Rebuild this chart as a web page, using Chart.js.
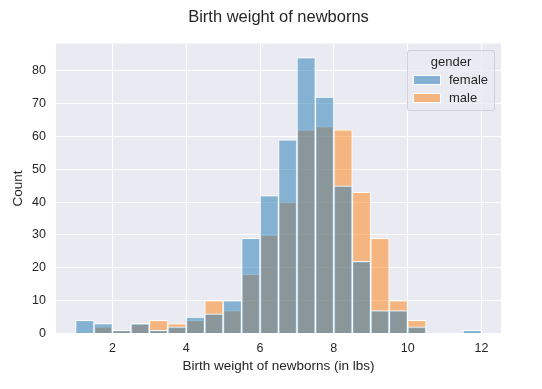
<!DOCTYPE html>
<html>
<head>
<meta charset="utf-8">
<script src="https://cdn.jsdelivr.net/npm/chart.js@4"></script>
<style>
  body { margin: 0; background: #fff; }
  #wrap { position: relative; width: 542px; height: 389px; }
  #legend {
    position: absolute; left: 407px; top: 50px; width: 88px; height: 61px;
    box-sizing: border-box; border: 1px solid rgba(204,204,204,0.8); border-radius: 3px;
    background: rgba(234,234,242,0.8);
    font-family: 'Liberation Sans', Arial, sans-serif; font-size: 13px; color: #262626;
  }
  #legend .ttl { position: absolute; left: 0; width: 100%; top: 3px; text-align: center; }
  #legend .sw { position: absolute; left: 5px; width: 26px; height: 8px; border: 1px solid #fff; }
  #legend .lb { position: absolute; left: 41px; }
</style>
</head>
<body>
<div id="wrap">
  <canvas id="chartHist" width="542" height="389"></canvas>
  <div id="legend"></div>
</div>
<script>
/* histogram bins (0.5 lb wide), counts */
const binCenters = [1.25, 1.75, 2.25, 2.75, 3.25, 3.75, 4.25, 4.75, 5.25, 5.75, 6.25,
                    6.75, 7.25, 7.75, 8.25, 8.75, 9.25, 9.75, 10.25, 10.75, 11.25, 11.75];
const femaleCounts = [4, 3, 1, 3, 1, 2, 5, 6, 10, 29, 42, 59, 84, 72, 45, 22, 7, 7, 2, 0, 0, 1];
const maleCounts = [0, 2, 1, 3, 4, 3, 4, 10, 7, 18, 30, 40, 62, 63, 62, 43, 29, 10, 4, 0, 0, 0];
const seriesNames = ["female", "male"];
const legendTitle = "gender";
const xTicks = [2, 4, 6, 8, 10, 12];

const textColor = "#262626";
Chart.defaults.font.family = "'Liberation Sans', Arial, sans-serif";
Chart.defaults.color = textColor;

function toPoints(counts) {
    return binCenters.map((c, i) => ({ x: c, y: counts[i] }));
}

// seaborn-ish grey panel behind the grid
const panelBg = {
    id: "panelBg",
    beforeDraw(chart) {
        const a = chart.chartArea;
        const c = chart.ctx;
        c.save();
        c.fillStyle = "#eaeaf2";
        c.fillRect(a.left, a.top, a.right - a.left, a.bottom - a.top);
        c.restore();
    }
};

var ctx = document.getElementById("chartHist").getContext("2d");
var chartHist = new Chart(ctx, {
    type: "bar",
    data: {
        datasets: [
            {
                label: seriesNames[0],
                data: toPoints(femaleCounts),
                backgroundColor: "rgba(31,119,180,0.5)",
                borderColor: "rgba(255,255,255,0.9)",
                borderWidth: 1
            },
            {
                label: seriesNames[1],
                data: toPoints(maleCounts),
                backgroundColor: "rgba(255,127,14,0.5)",
                borderColor: "rgba(255,255,255,0.9)",
                borderWidth: 1
            }
        ]
    },
    options: {
        responsive: false,
        animation: false,
        devicePixelRatio: 1,
        grouped: false,
        barPercentage: 1,
        categoryPercentage: 1,
        layout: { padding: { left: 0, right: 41, top: 0, bottom: 0 } },
        plugins: {
            legend: { display: false },
            tooltip: { enabled: false },
            title: {
                display: true,
                fullSize: false,
                text: "Birth weight of newborns",
                color: textColor,
                font: { size: 16.5, weight: "normal" },
                padding: { top: 8, bottom: 15.7 }
            }
        },
        scales: {
            x: {
                type: "linear",
                min: 0.47,
                max: 12.53,
                offset: false,
                afterBuildTicks: (s) => { s.ticks = xTicks.map(v => ({ value: v })); },
                afterFit: (s) => { s.height = 55.5; },
                ticks: { font: { size: 12.5 }, padding: 8, color: textColor },
                grid: { color: "#ffffff", lineWidth: 1, drawTicks: false, offset: false },
                border: { display: false },
                title: {
                    display: true,
                    text: "Birth weight of newborns (in lbs)",
                    font: { size: 13.5 },
                    color: textColor,
                    padding: { top: 0, bottom: 15 }
                }
            },
            y: {
                min: 0,
                max: 88.3,
                ticks: { stepSize: 10, includeBounds: false, font: { size: 12.5 }, padding: 10, color: textColor },
                afterFit: (s) => { s.width = 56; },
                grid: { color: "#ffffff", lineWidth: 1, drawTicks: false },
                border: { display: false },
                title: {
                    display: true,
                    text: "Count",
                    font: { size: 13.5 },
                    color: textColor,
                    padding: { top: 10, bottom: 0 }
                }
            }
        }
    },
    plugins: [panelBg]
});

/* legend box in the upper right, built from the datasets */
function buildLegend() {
    var box = document.getElementById("legend");
    var t = document.createElement("div");
    t.className = "ttl";
    t.textContent = legendTitle;
    box.appendChild(t);
    chartHist.data.datasets.forEach((ds, i) => {
        var sw = document.createElement("div");
        sw.className = "sw";
        sw.style.top = (24 + i * 18) + "px";
        sw.style.background = ds.backgroundColor;
        box.appendChild(sw);
        var lb = document.createElement("div");
        lb.className = "lb";
        lb.style.top = (21 + i * 18) + "px";
        lb.textContent = ds.label;
        box.appendChild(lb);
    });
}
buildLegend();
</script>
</body>
</html>
